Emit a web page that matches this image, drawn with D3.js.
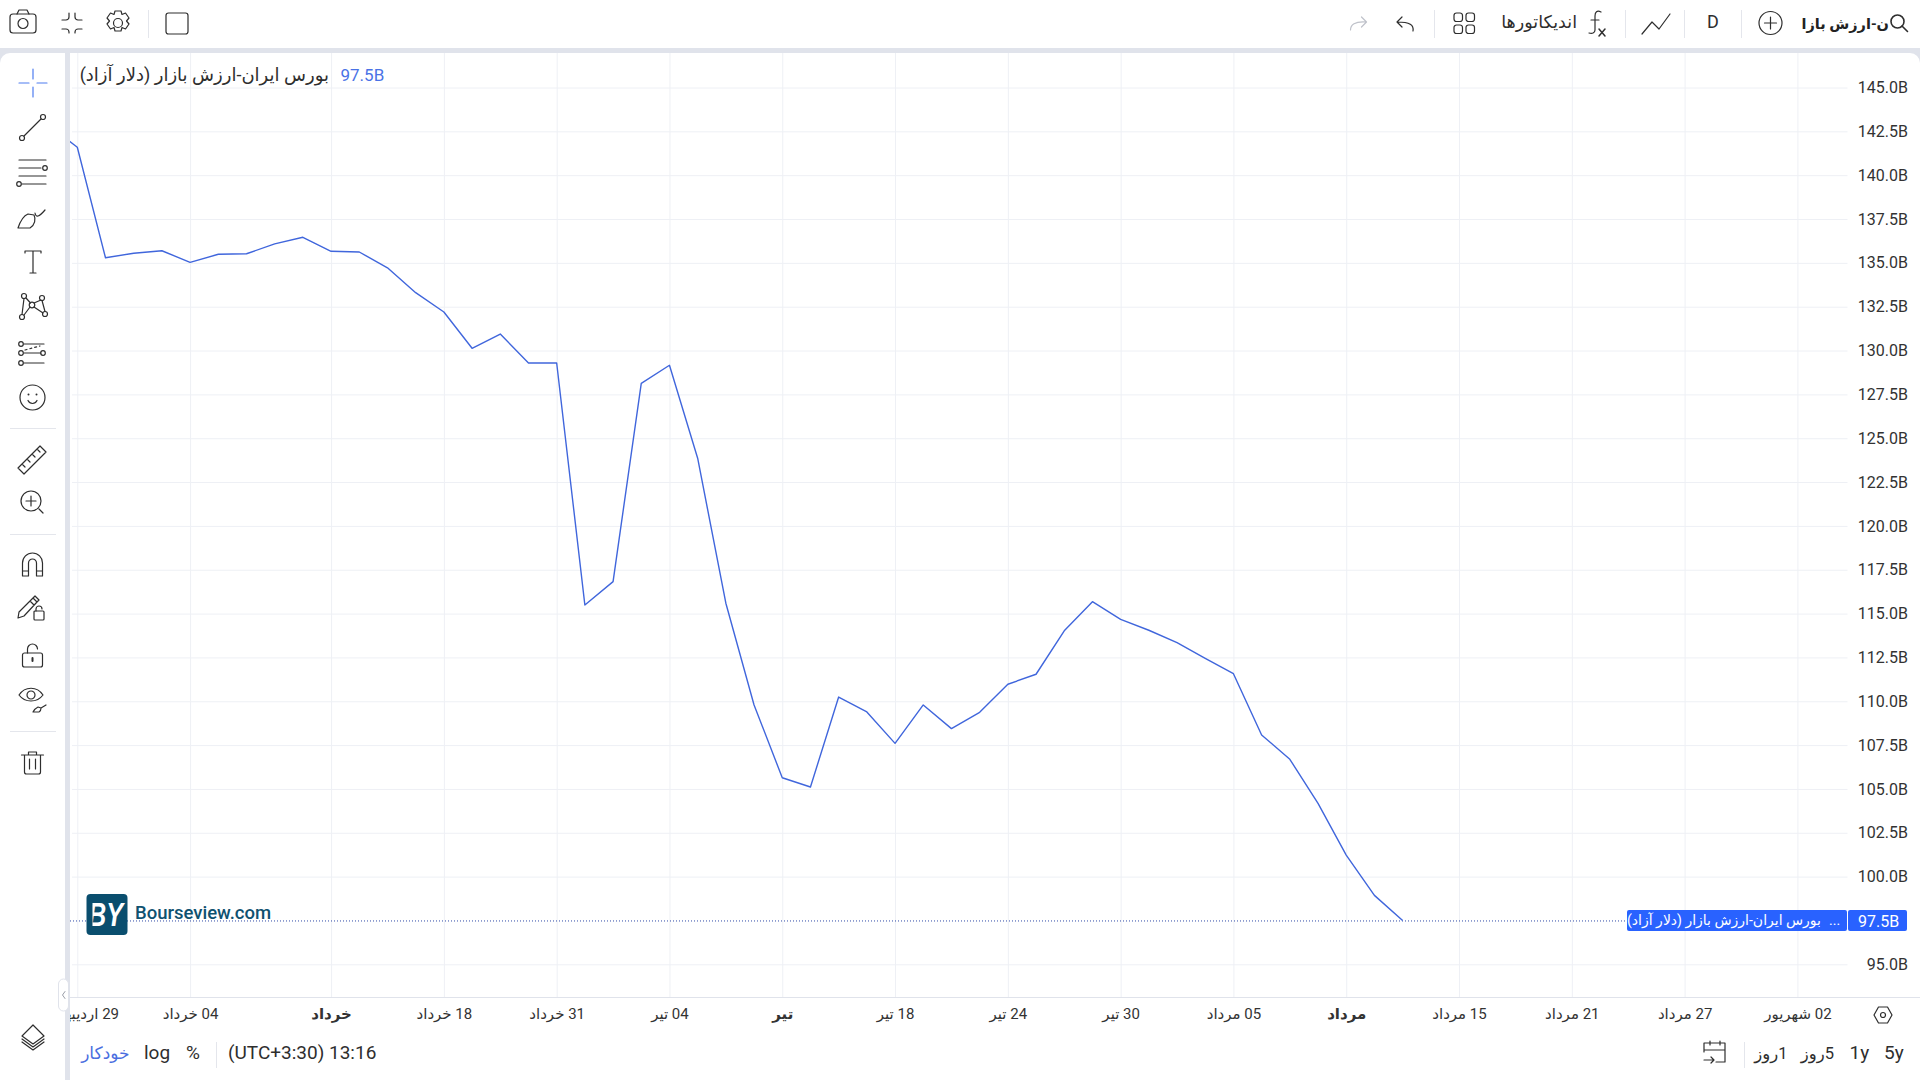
<!DOCTYPE html>
<html lang="fa">
<head>
<meta charset="utf-8">
<script src="https://cdn.jsdelivr.net/npm/d3@7/dist/d3.min.js"></script>
<style>
html,body{margin:0;padding:0;background:#fff;overflow:hidden}
svg{display:block}
text{font-family:Roboto,"DejaVu Sans",sans-serif;fill:#2e2e2e}
.ic{fill:none;stroke:#2e2e2e;stroke-width:1.2;stroke-linecap:round;stroke-linejoin:round}
.ic .f{fill:#2e2e2e;stroke:none}
.axis .domain{display:none}
.axis .tick line{stroke:#eef0f5;stroke-width:1}
.axis .tick text{font-size:16px;fill:#333}
</style>
</head>
<body>
<script>
// ---------- data ----------
const seriesName = "بورس ایران-ارزش بازار (دلار آزاد)";
const lastValueLabel = "97.5B";
// day index on the chart's time axis (-1 lies hidden left of the plot edge)
const dayIndex = [-1,0,1,2,3,4,5,6,7,8,9,10,11,12,13,14,15,16,17,18,19,20,21,22,23,24,25,26,27,28,29,30,31,32,33,34,35,36,37,38,39,40,41,42,43,44,45,46,47];
// market value, billions
const marketValue = [142.83,141.59,135.29,135.55,135.69,135.03,135.49,135.52,136.08,136.46,135.66,135.62,134.72,133.30,132.20,130.13,130.94,129.29,129.29,115.49,116.82,128.13,129.16,123.86,115.59,109.79,105.64,105.11,110.24,109.39,107.60,109.79,108.44,109.37,110.97,111.54,114.02,115.68,114.67,114.05,113.34,112.45,111.57,108.08,106.69,104.18,101.23,98.93,97.5];
const yTickValues = [95,100,102.5,105,107.5,110,112.5,115,117.5,120,122.5,125,127.5,130,132.5,135,137.5,140,142.5,145];
const xTickDays = [0,4,9,13,17,21,25,29,33,37,41,45,49,53,57,61];
const xTickLabels = ["29 اردیبهشت","04 خرداد","خرداد","18 خرداد","31 خرداد","04 تیر","تیر","18 تیر","24 تیر","30 تیر","05 مرداد","مرداد","15 مرداد","21 مرداد","27 مرداد","02 شهریور"];
const xTickBold = ["خرداد","تیر","مرداد"];

// ---------- frame ----------
const W=1920,H=1080;
const plot={l:70,r:1847.5,t:53,b:997};
const svg=d3.select("body").append("svg").attr("width",W).attr("height",H).attr("viewBox",`0 0 ${W} ${H}`);
const defs=svg.append("defs");
defs.append("clipPath").attr("id","plotClip").append("rect").attr("x",plot.l).attr("y",plot.t).attr("width",plot.r-plot.l).attr("height",plot.b-plot.t);
defs.append("clipPath").attr("id","xClip").append("rect").attr("x",plot.l).attr("y",0).attr("width",plot.r-plot.l).attr("height",40);
defs.append("clipPath").attr("id","logoClip").append("rect").attr("x",92.5).attr("y",894).attr("width",34).attr("height",41);

const x=d3.scaleLinear().domain([0,61]).range([77.3,1797.4]);
const y=d3.scaleLinear().domain([95,145]).range([964.3,87.5]);

// background bands
svg.append("rect").attr("width",W).attr("height",H).attr("fill","#fff");
svg.append("rect").attr("x",0).attr("y",48).attr("width",W).attr("height",5).attr("fill","#e0e3eb");
svg.append("rect").attr("x",65).attr("y",48).attr("width",5).attr("height",H-48).attr("fill","#e0e3eb");
svg.append("path").attr("d","M0 53H10A10 10 0 0 0 0 63Z").attr("fill","#e0e3eb");
svg.append("path").attr("d","M1920 53H1910A10 10 0 0 1 1920 63Z").attr("fill","#e0e3eb");

// gridlines from the axes
svg.append("g").attr("class","axis").attr("transform",`translate(0,${plot.b})`)
  .call(d3.axisTop(x).tickValues(xTickDays).tickSize(plot.b-plot.t).tickFormat(""));
svg.append("g").attr("class","axis").attr("transform",`translate(${plot.r},0)`)
  .call(d3.axisLeft(y).tickValues(yTickValues).tickSize(plot.r-plot.l-2).tickFormat(""));
svg.append("line").attr("x1",plot.l).attr("x2",W).attr("y1",plot.b+.5).attr("y2",plot.b+.5).attr("stroke","#e0e3eb");

// y axis
const yAxis=svg.append("g").attr("class","axis").attr("transform",`translate(1908,0)`)
  .call(d3.axisLeft(y).tickValues(yTickValues).tickSize(0).tickPadding(0).tickFormat(d=>d.toFixed(1)+"B"));
yAxis.selectAll("text").attr("text-anchor","end");

// x axis
const xLabel=d=>xTickLabels[xTickDays.indexOf(d)];
const xAxis=svg.append("g").attr("class","axis").attr("clip-path","url(#xClip)").attr("transform",`translate(0,${plot.b})`)
  .call(d3.axisBottom(x).tickValues(xTickDays).tickSize(0).tickPadding(11).tickFormat(xLabel));
xAxis.selectAll("text").attr("direction","rtl").attr("text-anchor","middle")
  .style("font-size","15px").style("font-weight",d=>xTickBold.includes(xLabel(d))?"700":"400");

// dotted last-value line
svg.append("line").attr("x1",plot.l).attr("x2",1627).attr("y1",y(97.5)+.5).attr("y2",y(97.5)+.5)
  .attr("stroke","#2f4aa8").attr("stroke-width",1).attr("stroke-dasharray","1 2");

// series line
const line=d3.line().x((d,i)=>x(dayIndex[i])).y(d=>y(d));
svg.append("path").attr("clip-path","url(#plotClip)").attr("d",line(marketValue))
  .attr("fill","none").attr("stroke","#4066dc").attr("stroke-width",1.4).attr("stroke-linejoin","round");

// legend
svg.append("text").attr("x",329).attr("y",81).attr("direction","rtl").attr("text-anchor","start").attr("font-size",18).text(seriesName);
svg.append("text").attr("x",340.5).attr("y",80.5).attr("font-size",17).style("fill","#4a72e6").text(lastValueLabel);

// watermark
svg.append("rect").attr("x",86.5).attr("y",894).attr("width",41).attr("height",41).attr("rx",4).attr("fill","#0a4e6e");
svg.append("g").attr("clip-path","url(#logoClip)").append("text").attr("x",88).attr("y",926).attr("font-size",33)
  .attr("textLength",35).attr("lengthAdjust","spacingAndGlyphs")
  .style("font-family","'Liberation Sans'").style("font-weight","700").style("font-style","italic").style("fill","#fff").text("BY");
svg.append("text").attr("x",135).attr("y",918.5).attr("font-size",18.5).style("font-weight","500").style("fill","#0f5270").text("Bourseview.com");

// last-value tags
svg.append("rect").attr("x",1627).attr("y",910).attr("width",220).attr("height",21).attr("rx",2).attr("fill","#2962ff");
svg.append("rect").attr("x",1848).attr("y",910).attr("width",59).attr("height",21).attr("rx",2).attr("fill","#2962ff");
svg.append("text").attr("x",1821).attr("y",925).attr("direction","rtl").attr("font-size",14).style("fill","#fff").text(seriesName);
svg.append("text").attr("x",1829).attr("y",925).attr("font-size",14).style("fill","#fff").text("...");
svg.append("text").attr("x",1858).attr("y",926.5).attr("font-size",16).style("fill","#fff").text(lastValueLabel);

// ---------- toolbars ----------
const tb=svg.append("g");
function sep(x1,y1,x2,y2){tb.append("line").attr("x1",x1).attr("y1",y1).attr("x2",x2).attr("y2",y2).attr("stroke","#e4e6ec").attr("stroke-width",1);}
[[148.5,10,148.5,38],[1434.5,10,1434.5,38],[1625.5,10,1625.5,38],[1684.5,10,1684.5,38],[1741.5,10,1741.5,38],
 [216.5,1042,216.5,1068],[1744.5,1042,1744.5,1068],[10,428.5,56,428.5],[10,534.5,56,534.5],[10,731.5,56,731.5]].forEach(s=>sep(...s));

function icon(cx,cy,markup,stroke){
  const g=tb.append("g").attr("class","ic").attr("transform",`translate(${cx},${cy})`).html(markup);
  if(stroke) g.style("stroke",stroke);
  return g;
}
// top left
icon(23,23,'<rect x="-13" y="-9" width="26" height="19" rx="3"/><path d="M-6-9l2-4h8l2 4"/><circle cx="0" cy="0.5" r="5"/>');
icon(72,23,'<path d="M-10-3h4a3 3 0 0 0 3-3v-4M3-10v4a3 3 0 0 0 3 3h4M-10 6h4a3 3 0 0 1 3 3v1M3 10V9a3 3 0 0 1 3-3h4"/>');
icon(118,23,'<circle r="4.5"/><path d="M-3-12h6l1 3.500 3.500-1.500 3.500 5-2.500 3 2.500 3-3.500 5-3.500-1.500-1 3.500h-6l-1-3.500-3.500 1.500-3.500-5 2.500-3-2.500-3 3.500-5 3.500 1.500z"/>');
icon(177,23.5,'<rect x="-11" y="-10.500" width="22" height="21" rx="2.500"/>');
// top right
icon(1358.5,23,'<path d="M-8 7c0-5 4-9 16-8M8-1l-5-5M8-1l-5 5"/>',"#bfc2ca");
icon(1405,23,'<path d="M8 8c1-6-3-9-16-9M-8-1l5-5M-8-1l5 5"/>');
icon(1464,23,'<rect x="-10" y="-10" width="8.500" height="8.500" rx="2.500"/><rect x="2" y="-10" width="8.500" height="8.500" rx="2.500"/><rect x="-10" y="2" width="8.500" height="8.500" rx="2.500"/><rect x="2" y="2" width="8.500" height="8.500" rx="2.500"/>');
icon(1595,23,'<path d="M6-11c-4-2-6 0-6 4v14c0 3-3 4-6 3M-4-3h8"/><path d="M4 6l6 7M10 6l-6 7" style="stroke-width:1.500"/>');
icon(1656,23,'<path d="M-14 11L-4-1 3 6 14-9"/>');
icon(1770.5,23,'<circle r="11.500"/><path d="M-6 0H6M0-6V6"/>');
icon(1899,23,'<circle cx="-1.500" cy="-1.500" r="6.500" style="stroke-width:1.600"/><path d="M3 3l5.500 5.500" style="stroke-width:1.600"/>');
tb.append("text").attr("x",1577).attr("y",28).attr("direction","rtl").attr("font-size",17.5).text("اندیکاتورها");
tb.append("text").attr("x",1713).attr("y",28).attr("text-anchor","middle").attr("font-size",18).text("D");
tb.append("text").attr("x",1889).attr("y",29).attr("direction","rtl").attr("font-size",14.5).style("font-weight","700").style("fill","#222").text("ن-ارزش بازا");

// left rail
icon(33,83,'<path d="M-14 0h10M4 0h10M0-14v10M0 4v10"/>',"#4f7df0");
icon(33,127,'<circle cx="-11" cy="11" r="2.500"/><circle cx="10" cy="-10" r="2.500"/><path d="M-9 9L8-8"/>');
icon(33,171,'<path d="M-14-11h27M-14-3h22M-14 5h27M-11 13h24"/><circle cx="12" cy="-3" r="2.300"/><circle cx="-14" cy="13" r="2.300"/>');
icon(32,218,'<path d="M-14 10h12c5-3 6-9 4-13l-6-1c-5 2-8 8-10 14zM3-5c1 5 4 4 10-3"/>');
icon(33,262,'<path d="M-8-9v-2h16v2M0-11v22M-3 11h6"/>');
icon(33,306,'<circle cx="-9" cy="-10" r="2.500"/><circle cx="9" cy="-8" r="2.500"/><circle cx="-11" cy="11" r="2.500"/><circle cx="12" cy="8" r="2.500"/><circle cx="-1" cy="-1" r="2.800"/><path d="M-9-7.500l-2 16M-7-8l4.500 5M-9 9l6-8M1-3l7-3M1 1l9 6M9-5.500l3 11"/>');
icon(32,353,'<circle cx="-11" cy="-9" r="2.300"/><circle cx="-11" cy="0" r="2.300"/><circle cx="-11" cy="10" r="2.300"/><circle cx="11" cy="0" r="2.300"/><path d="M-8-9h20M-8 0h17M-8 10h20"/><path d="M-7-3L8-7" stroke-dasharray="2 3"/>');
icon(32.500,397.5,'<circle r="12.500"/><circle class="f" cx="-4" cy="-3" r="1"/><circle class="f" cx="4" cy="-3" r="1"/><path d="M-4.500 3c2 4 7 4 9 0"/>');
icon(32,458,'<path d="M-14 10L8-12l6 6L-8 16zM-10 6l3 3M-5 1l3 3M0-4l3 3M5-9l3 3"/>');
icon(31,502,'<circle cx="0" cy="-1" r="10"/><path d="M-5-1H5M0-6V4M8 7l4 4"/>');
icon(32.500,565,'<path d="M-10 11V-2a10 10 0 0 1 20 0V11h-6V-2a4 4 0 0 0-8 0V11zM-10 6h6M4 6h6"/>');
icon(31,609,'<path d="M-12 3l-1 6 6-2L6-7l-4-4zM-1-8l4 4M2-11l2-2 4 4-2 2"/><rect x="3" y="2" width="10" height="9" rx="1"/><path d="M5 2V0a3 3 0 0 1 6 0"/>');
icon(32.500,656,'<rect x="-10" y="-3" width="20" height="14" rx="2"/><path d="M-5-3V-7a5 5 0 0 1 10 0"/><path d="M0 2v3" style="stroke-width:2"/>');
icon(31,699,'<path d="M-12-4C-6-13 6-13 12-4 6 4-6 4-12-4z"/><circle cy="-4" r="4"/><path d="M2 13h6c2-1 2-3 2-4l-3-1c-2 1-4 3-5 5zM10 9l5-3"/>');
icon(32.500,762,'<path d="M-11-7h22M-8-7V10a2 2 0 0 0 2 2H6a2 2 0 0 0 2-2V-7M-4-7V-10h8v3M-3-3V7M3-3V7"/>');
icon(33,1037,'<path d="M0-12l11 11L0 7-11-1zM-11 2L0 10 11 2M-11 5L0 13 11 5"/>');

// collapse handle
tb.append("rect").attr("x",58.500).attr("y",979).attr("width",10).attr("height",32).attr("rx",5).attr("fill","#fff").attr("stroke","#e0e3eb");
icon(63.500,995,'<path d="M1.500-3.500L-1 0l2.500 3.500"/>',"#9a9ea8").style("stroke-width",1);

// axis settings hex
icon(1883,1015,'<path d="M-9 0l4.500-8h9L9 0l-4.500 8h-9z"/><circle r="2.500"/>');
// go-to-date
icon(1715,1053,'<path d="M-11-3h21M10-3V-10H-11V-1M10-3V9H1M-5-12v4M5-12v4M-11 7H-1M-4 4l3 3-3 3"/>');

// bottom left and right text
const bot=[
 {x:144,t:"log",s:19},
 {x:186,t:"%",s:19},
 {x:228,t:"(UTC+3:30) 13:16",s:19},
 {x:1849.500,t:"1y",s:19},
 {x:1884,t:"5y",s:19}
];
bot.forEach(b=>{
  tb.append("text").attr("x",b.x).attr("y",1059).attr("font-size",b.s).text(b.t);
});
tb.append("text").attr("x",129.5).attr("y",1059).attr("direction","rtl").attr("font-size",17).style("fill","#4a6ee0").text("خودکار");
tb.append("text").attr("x",1787.500).attr("y",1059).attr("direction","rtl").attr("font-size",16.5).text("1روز");
tb.append("text").attr("x",1834).attr("y",1059).attr("direction","rtl").attr("font-size",16.5).text("5روز");
</script>
</body>
</html>
